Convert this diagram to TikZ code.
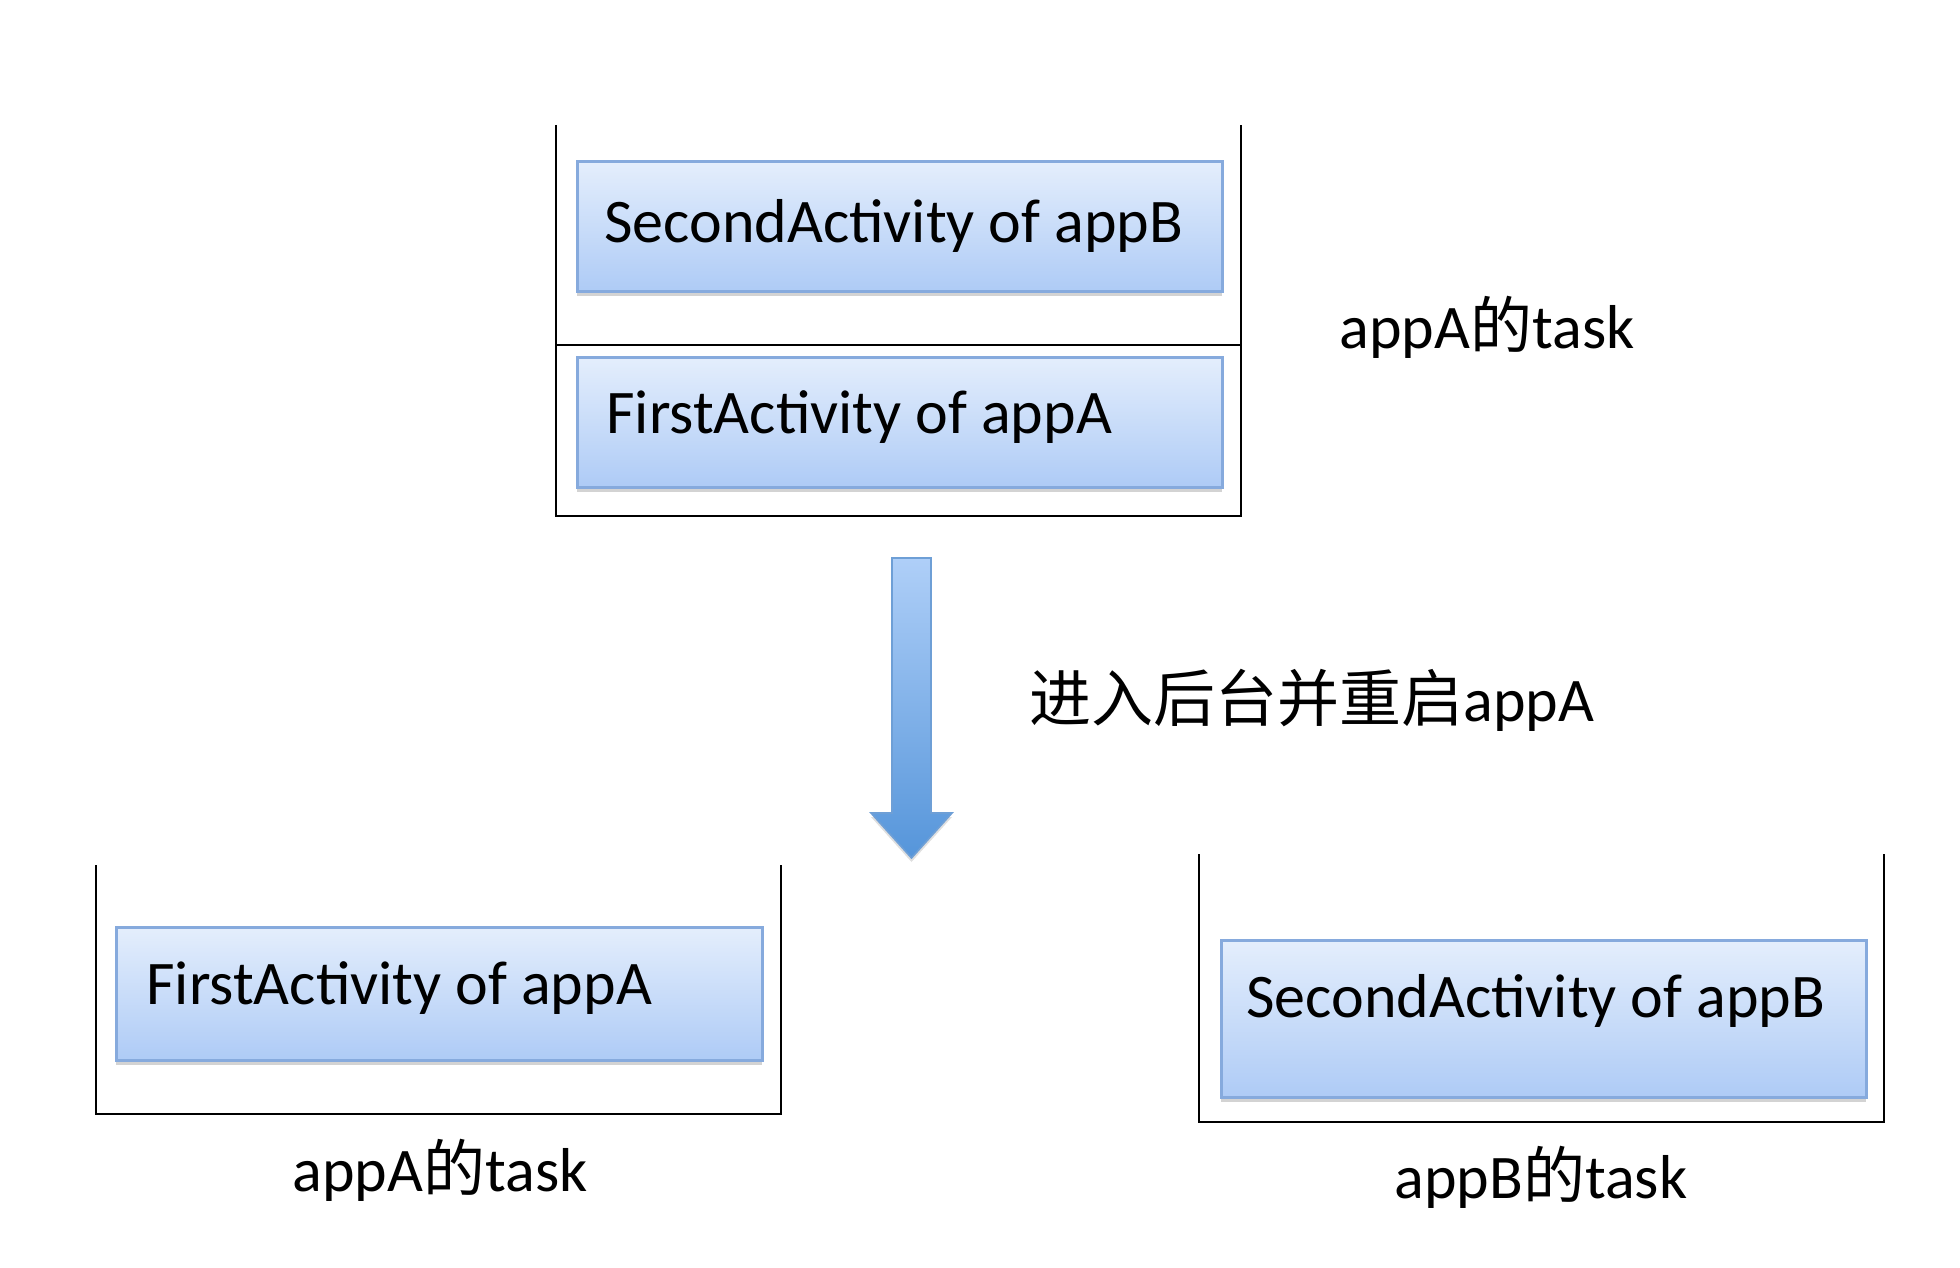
\documentclass[tikz,border=0pt]{standalone}
\usepackage{fontspec}
\setmainfont{Carlito}
\newfontfamily\cjk{Noto Sans CJK SC}
\usetikzlibrary{shadows}
\definecolor{boxtop}{HTML}{E4EEFC}
\definecolor{boxbot}{HTML}{AECBF6}
\definecolor{boxedge}{HTML}{86AADD}
\definecolor{arrtop}{HTML}{AFCFF8}
\definecolor{arrbot}{HTML}{5595DA}
\definecolor{arredge}{HTML}{6E9FD6}
\begin{document}
\begin{tikzpicture}[x=0.5pt,y=-0.5pt,
  actbox/.style={draw=boxedge, line width=1.5pt, top color=boxtop, bottom color=boxbot,
    drop shadow={shadow xshift=0pt, shadow yshift=-2.5pt, opacity=0.35}},
  tasklines/.style={draw=black, line width=1pt},
  bigtext/.style={font=\fontsize{31}{36}\selectfont, inner sep=0pt}]
\useasboundingbox (0,0) rectangle (1960,1268);
% top container
\draw[tasklines] (556,125) -- (556,516) -- (1241,516) -- (1241,125);
\draw[tasklines] (556,345) -- (1241,345);
\path[actbox] (577,162) rectangle (1222,291);
\path[actbox] (577,357) rectangle (1222,487);
\node[bigtext, anchor=west] (t1) at (604,226) {SecondActivity of appB};
\node[bigtext, anchor=west] (t2) at (606,417) {FirstActivity of appA};
\node[bigtext] (l1) at (1487,327) {appA{\cjk 的}task};
% arrow
\shade[top color=arrtop, bottom color=arrbot, draw=arredge, line width=0.8pt,
  drop shadow={shadow xshift=0pt, shadow yshift=-2pt, opacity=0.25}]
  (892,558) -- (931,558) -- (931,813) -- (952,813) -- (911.5,858) -- (871,813) -- (892,813) -- cycle;
\node[bigtext, anchor=west] (mid) at (1029,700) {{\cjk 进入后台并重启}appA};
% bottom left container
\draw[tasklines] (96,865) -- (96,1114) -- (781,1114) -- (781,865);
\path[actbox] (116,927) rectangle (762,1060);
\node[bigtext, anchor=west] (t3) at (146,988) {FirstActivity of appA};
\node[bigtext] (l2) at (440,1170) {appA{\cjk 的}task};
% bottom right container
\draw[tasklines] (1199,854) -- (1199,1122) -- (1884,1122) -- (1884,854);
\path[actbox] (1221,940) rectangle (1866,1097);
\node[bigtext, anchor=west] (t4) at (1246,1001) {SecondActivity of appB};
\node[bigtext] (l3) at (1541,1177) {appB{\cjk 的}task};
\end{tikzpicture}
\end{document}
